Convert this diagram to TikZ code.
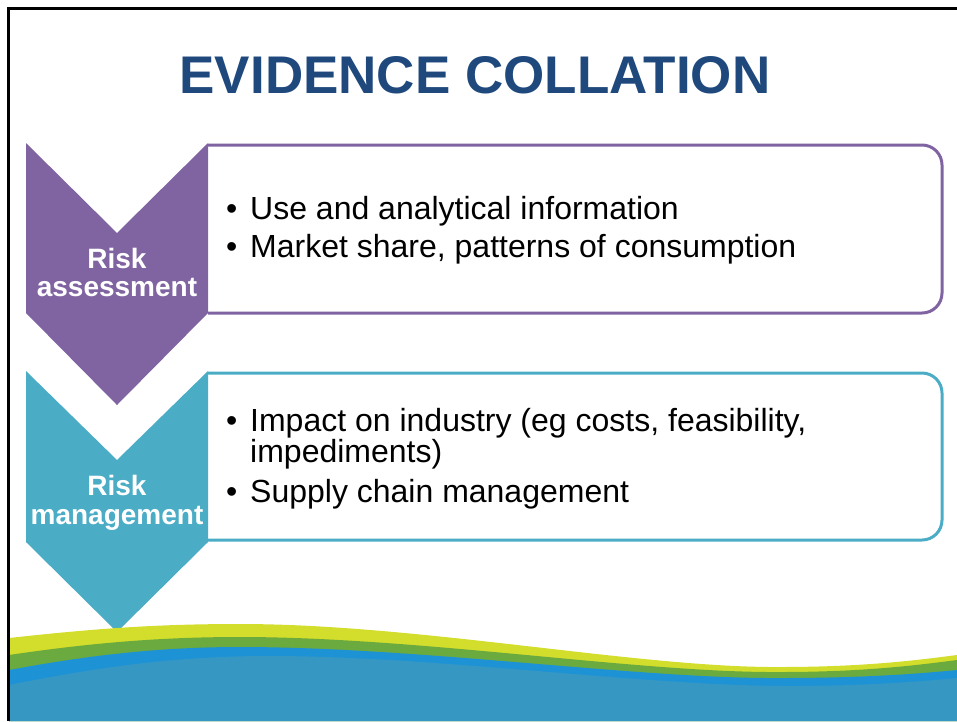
\documentclass[tikz,border=0pt]{standalone}
\usepackage{fontspec}
\setmainfont{Liberation Sans}
\definecolor{titleblue}{HTML}{1F497D}
\definecolor{riskpurple}{HTML}{8064A2}
\definecolor{riskteal}{HTML}{4BACC6}
\definecolor{waveyellow}{HTML}{D3DD2B}
\definecolor{wavegreen}{HTML}{6BAA3F}
\definecolor{wavebright}{HTML}{1D93D6}
\definecolor{waveblue}{HTML}{3797C3}
\tikzset{
	itemtext/.style={anchor=base west, inner sep=0pt, font=\fontsize{32}{38}\selectfont},
	risklabel/.style={anchor=base, inner sep=0pt, text=white, font=\bfseries\fontsize{28}{28}\selectfont},
	itembox/.style={line width=3pt, rounded corners=20pt},
}
\newcommand{\itembul}{\llap{\textbullet\hskip 13pt}}

\begin{document}
\begin{tikzpicture}[x=1pt, y=-1pt]
			%%%%% START %%%%%
			\useasboundingbox (0, 0) rectangle (957, 721);
			
			\node[anchor=base, inner sep=0pt, text=titleblue, font=\bfseries\fontsize{53}{53}\selectfont] (title) at (475, 93) {EVIDENCE COLLATION};
			
			\draw[itembox, riskpurple] (208, 145) -- (942, 145) -- (942, 313) -- (208, 313);
			\fill[riskpurple] (26, 143) -- (117, 233) -- (208, 143) -- (208, 313) -- (117, 405) -- (26, 313) -- cycle;
			\node[risklabel] (riskone) at (117, 268) {Risk};
			\node[risklabel] (assess) at (117, 296) {assessment};
			\node[itemtext] (use) at (250, 219) {\itembul Use and analytical information};
			\node[itemtext] (market) at (250, 257) {\itembul Market share, patterns of consumption};
			
			\draw[itembox, riskteal] (208, 373) -- (942, 373) -- (942, 540) -- (208, 540);
			\fill[riskteal] (26, 371) -- (117, 460) -- (208, 371) -- (208, 542) -- (117, 632) -- (26, 542) -- cycle;
			\node[risklabel] (risktwo) at (117, 495) {Risk};
			\node[risklabel] (manage) at (117, 524) {management};
			\node[itemtext] (impact) at (250, 431) {\itembul Impact on industry (eg costs, feasibility,};
			\node[itemtext] (impede) at (250, 462) {impediments)};
			\node[itemtext] (supply) at (250, 502) {\itembul Supply chain management};
			
			% wave at the bottom
			\fill[waveyellow] (9, 638) .. controls (100, 628) and (160, 624) .. (240, 624) .. controls (420, 624) and (640, 668) .. (780, 667) .. controls (870, 667) and (925, 659) .. (957, 655) -- (957, 721) -- (9, 721) -- cycle;
			\fill[wavegreen] (9, 655) .. controls (90, 643) and (160, 637) .. (240, 637) .. controls (420, 637) and (640, 673) .. (780, 672) .. controls (870, 672) and (925, 664) .. (957, 660) -- (957, 721) -- (9, 721) -- cycle;
			\fill[wavebright] (9, 670) .. controls (90, 655) and (160, 647) .. (240, 647) .. controls (420, 647) and (640, 679) .. (780, 678) .. controls (870, 678) and (925, 673) .. (957, 670) -- (957, 721) -- (9, 721) -- cycle;
			\fill[waveblue] (9, 685) .. controls (100, 667) and (170, 657) .. (260, 656) .. controls (430, 655) and (640, 686) .. (790, 686) .. controls (870, 686) and (925, 681) .. (957, 678) -- (957, 721) -- (9, 721) -- cycle;
			
			\draw[line width=2.5pt] (8.5, 721) -- (8.5, 8.5) -- (957, 8.5);
			%%%%% END %%%%%
\end{tikzpicture}
\end{document}
